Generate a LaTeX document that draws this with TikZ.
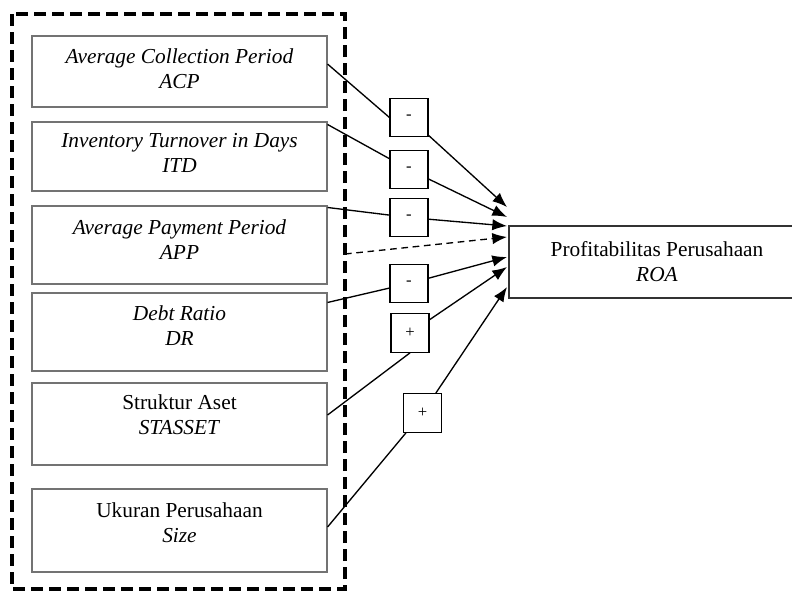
\documentclass[tikz,border=0pt]{standalone}
\usepackage{fontspec}
\setmainfont{Liberation Serif}
\usetikzlibrary{arrows.meta}

\tikzset{
    var/.style={draw=gray!90!black, line width=0.8pt, align=center, minimum width=221.25pt,
        font=\fontsize{16}{18.75}\selectfont, inner sep=0pt},
    sign/.style={draw=black, line width=0.8pt, minimum width=28.5pt, minimum height=29pt,
        inner sep=0pt, font=\fontsize{12.5}{14}\selectfont},
    conn/.style={line width=1pt, -{Latex[length=11pt, width=8.5pt]}},
}

\begin{document}
\begin{tikzpicture}[x=0.75pt, y=-0.75pt]
                \path[use as bounding box, clip] (0,0) rectangle (792,590);

                % Cadre pointillé des variables
                \draw[line width=2.6pt, dash pattern=on 9pt off 4.5pt] (12,14) rectangle (345,589);

                % Variables indépendantes
                \node[var, minimum height=53.25pt] (acp) at (179.5,71.5) {\textit{Average Collection Period}\\ \textit{ACP}\\[-15pt]};
                \node[var, minimum height=51.75pt] (itd) at (179.5,156.5) {\textit{Inventory Turnover in Days}\\ \textit{ITD}\\[-13.5pt]};
                \node[var, minimum height=58.5pt] (app) at (179.5,245) {\textit{Average Payment Period}\\ \textit{APP}\\[-11.25pt]};
                \node[var, minimum height=58.5pt] (dr) at (179.5,332) {\textit{Debt Ratio}\\ \textit{DR}\\[-9.75pt]};
                \node[var, minimum height=61.5pt] (stasset) at (179.5,424) {Struktur Aset\\ \textit{STASSET}\\[-5.25pt]};
                \node[var, minimum height=62.25pt] (size) at (179.5,530.5) {Ukuran Perusahaan\\ \textit{Size}\\[-6.75pt]};

                % Variable dépendante
                \node[var, draw=black!80, minimum width=222pt, minimum height=54pt] (roa) at (657,262) {Profitabilitas Perusahaan\\ \textit{ROA}};

                % Signes
                \node[sign] (s1) at (409,117.5) {-};
                \node[sign] (s2) at (409,169.5) {-};
                \node[sign] (s3) at (409,217.5) {-};
                \node[sign] (s4) at (409,283.5) {-};
                \node[sign] (s5) at (410,333) {+};
                \node[sign] (s6) at (422.5,413) {+};

                % Pointes des flèches
                \coordinate (t1) at (507,207);
                \coordinate (t2) at (507,217);
                \coordinate (t3) at (507,226);
                \coordinate (td) at (507,237);
                \coordinate (t4) at (507,257);
                \coordinate (t5) at (507,267);
                \coordinate (t6) at (507,287);
                \coordinate (d0) at (345,254);

                % Flèches
                \draw[line width=1pt] ([yshift=5.6pt]acp.east) -- (s1.west);
                \draw[conn] (s1) -- (t1);
                \draw[line width=1pt] ([yshift=-2.25pt]itd.north east) -- (s2);
                \draw[conn] (s2) -- (t2);
                \draw[line width=1pt] ([yshift=-1.5pt]app.north east) -- (s3);
                \draw[conn] (s3) -- (t3);
                \draw[conn, dashed, dash pattern=on 5pt off 3.5pt] (d0) -- (td);
                \draw[line width=1pt] ([yshift=-7.5pt]dr.north east) -- (s4);
                \draw[conn] (s4) -- (t4);
                \draw[line width=1pt] ([yshift=6.75pt]stasset.east) -- (s5.south);
                \draw[conn] (s5) -- (t5);
                \draw[line width=1pt] ([yshift=2.6pt]size.east) -- (s6);
                \draw[conn] (s6) -- (t6);
\end{tikzpicture}
\end{document}
